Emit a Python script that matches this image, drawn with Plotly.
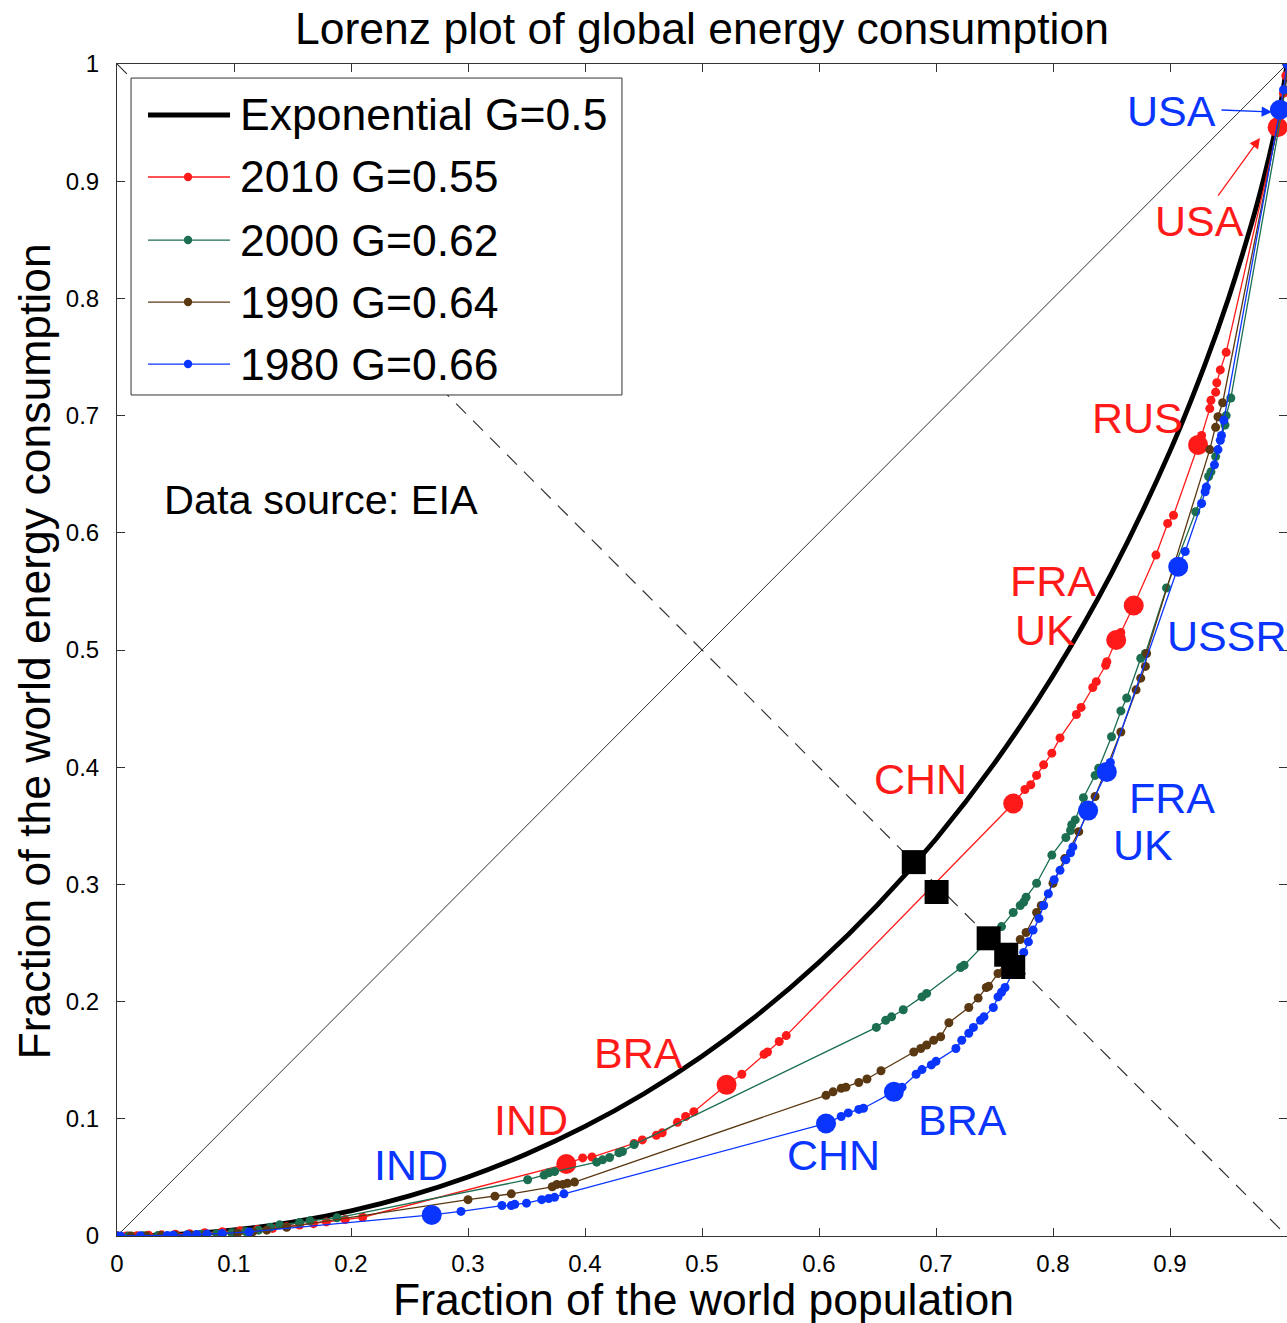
import plotly.graph_objects as go

# ---- data -------------------------------------------------------------
# Lorenz curve of an exponential distribution (Gini = 0.5)
exp_x = [0, 0.025, 0.05, 0.1, 0.15, 0.2, 0.25, 0.3, 0.35, 0.4, 0.45, 0.5, 0.55, 0.6,
         0.65, 0.7, 0.75, 0.8, 0.85, 0.9, 0.93, 0.95, 0.97, 0.98, 0.99, 0.995, 1.0]
exp_y = [0, 0.0003, 0.0013, 0.0052, 0.0119, 0.0215, 0.0342, 0.0503, 0.0700, 0.0935,
         0.1212, 0.1534, 0.1907, 0.2335, 0.2826, 0.3388, 0.4034, 0.4781, 0.5654,
         0.6697, 0.7439, 0.8002, 0.8648, 0.9018, 0.9440, 0.9685, 1.0]

# 2010 (G=0.55)
x2010 = [0, 0.008, 0.017, 0.027, 0.038, 0.05, 0.062, 0.075, 0.09, 0.105, 0.12, 0.133,
         0.145, 0.156, 0.168, 0.179, 0.195, 0.21, 0.384, 0.398, 0.406, 0.442, 0.449,
         0.461, 0.466, 0.479, 0.486, 0.493, 0.521, 0.534, 0.553, 0.556, 0.566, 0.572,
         0.766, 0.776, 0.781, 0.786, 0.792, 0.799, 0.806, 0.820, 0.824, 0.834, 0.837,
         0.845, 0.846, 0.854, 0.858, 0.869, 0.888, 0.898, 0.903, 0.924, 0.927, 0.934,
         0.935, 0.939, 0.940, 0.943, 0.948, 0.992, 0.995, 0.997, 0.999, 1.0]
y2010 = [0, 0.0001, 0.0003, 0.0006, 0.001, 0.0015, 0.002, 0.0028, 0.0036, 0.0045,
         0.0055, 0.0065, 0.0078, 0.0094, 0.0105, 0.012, 0.014, 0.016, 0.0614, 0.0666,
         0.0674, 0.079, 0.082, 0.086, 0.088, 0.097, 0.102, 0.106, 0.129, 0.138, 0.155,
         0.157, 0.166, 0.171, 0.369, 0.381, 0.385, 0.393, 0.402, 0.412, 0.425, 0.445,
         0.451, 0.468, 0.473, 0.487, 0.490, 0.5085, 0.515, 0.538, 0.581, 0.608, 0.615,
         0.675, 0.683, 0.706, 0.713, 0.720, 0.728, 0.739, 0.754, 0.946, 0.960, 0.975,
         0.990, 1.0]
c2010 = {18: "IND", 28: "BRA", 34: "CHN", 47: "UK", 49: "FRA", 53: "RUS", 61: "USA"}

# 2000 (G=0.62)
x2000 = [0, 0.01, 0.022, 0.035, 0.048, 0.06, 0.072, 0.085, 0.098, 0.11, 0.121, 0.131,
         0.139, 0.156, 0.165, 0.188, 0.351, 0.365, 0.369, 0.374, 0.41, 0.415, 0.421,
         0.429, 0.432, 0.442, 0.649, 0.657, 0.662, 0.672, 0.688, 0.692, 0.721, 0.724,
         0.756, 0.766, 0.772, 0.775, 0.777, 0.786, 0.799, 0.811, 0.815, 0.816, 0.819,
         0.826, 0.836, 0.839, 0.850, 0.858, 0.863, 0.875, 0.879, 0.897, 0.922, 0.933,
         0.935, 0.939, 0.947, 0.948, 0.952, 0.996, 0.998, 1.0]
y2000 = [0, 0.0001, 0.0002, 0.0004, 0.0007, 0.001, 0.0015, 0.002, 0.0028, 0.0038,
         0.005, 0.0075, 0.0095, 0.0115, 0.013, 0.0155, 0.048, 0.052, 0.054, 0.055,
         0.063, 0.065, 0.067, 0.071, 0.072, 0.078, 0.178, 0.184, 0.187, 0.193, 0.204,
         0.207, 0.229, 0.231, 0.264, 0.276, 0.282, 0.285, 0.289, 0.301, 0.325, 0.340,
         0.346, 0.351, 0.355, 0.374, 0.393, 0.399, 0.426, 0.448, 0.459, 0.493, 0.497,
         0.553, 0.618, 0.648, 0.652, 0.665, 0.692, 0.700, 0.715, 0.962, 0.978, 1.0]

# 1990 (G=0.64)
x1990 = [0, 0.012, 0.025, 0.038, 0.05, 0.063, 0.076, 0.09, 0.103, 0.116, 0.128, 0.145,
         0.300, 0.323, 0.337, 0.372, 0.376, 0.381, 0.385, 0.391, 0.606, 0.612, 0.619,
         0.623, 0.634, 0.641, 0.653, 0.681, 0.687, 0.692, 0.698, 0.704, 0.711, 0.728,
         0.736, 0.743, 0.745, 0.753, 0.772, 0.777, 0.786, 0.790, 0.800, 0.810, 0.822,
         0.836, 0.858, 0.871, 0.875, 0.879, 0.880, 0.934, 0.939, 0.941, 0.945, 0.995,
         0.998, 1.0]
y1990 = [0, 0.0001, 0.0002, 0.0004, 0.0006, 0.0009, 0.0013, 0.0018, 0.0025, 0.0035,
         0.005, 0.0075, 0.031, 0.034, 0.036, 0.042, 0.044, 0.044, 0.045, 0.046, 0.120,
         0.123, 0.126, 0.127, 0.131, 0.134, 0.141, 0.157, 0.160, 0.163, 0.167, 0.170,
         0.182, 0.195, 0.203, 0.212, 0.213, 0.224, 0.253, 0.259, 0.276, 0.282, 0.301,
         0.322, 0.345, 0.375, 0.430, 0.466, 0.476, 0.486, 0.497, 0.671, 0.690, 0.699,
         0.711, 0.962, 0.978, 1.0]

# 1980 (G=0.66)
x1980 = [0, 0.003, 0.02, 0.043, 0.048, 0.06, 0.068, 0.077, 0.09, 0.113, 0.269, 0.294,
         0.329, 0.337, 0.340, 0.350, 0.363, 0.369, 0.374, 0.382, 0.606, 0.619, 0.625,
         0.634, 0.638, 0.664, 0.671, 0.683, 0.688, 0.696, 0.700, 0.717, 0.722, 0.728,
         0.732, 0.738, 0.741, 0.749, 0.753, 0.756, 0.759, 0.775, 0.779, 0.783, 0.788,
         0.792, 0.796, 0.801, 0.806, 0.811, 0.815, 0.817, 0.830, 0.846, 0.849, 0.907,
         0.913, 0.927, 0.930, 0.931, 0.938, 0.941, 0.943, 0.944, 0.946, 0.994, 0.997, 1.0]
y1980 = [0, 0.0001, 0.0002, 0.0005, 0.0006, 0.0009, 0.0012, 0.0016, 0.0022, 0.0035,
         0.018, 0.021, 0.026, 0.026, 0.027, 0.028, 0.031, 0.032, 0.033, 0.036, 0.096,
         0.102, 0.105, 0.108, 0.109, 0.123, 0.127, 0.138, 0.142, 0.146, 0.149, 0.160,
         0.167, 0.173, 0.178, 0.184, 0.187, 0.195, 0.204, 0.208, 0.212, 0.242, 0.251,
         0.261, 0.271, 0.282, 0.292, 0.304, 0.312, 0.321, 0.327, 0.332, 0.363, 0.396,
         0.404, 0.571, 0.584, 0.625, 0.635, 0.639, 0.658, 0.671, 0.679, 0.683, 0.696,
         0.961, 0.978, 1.0]
c1980 = {10: "IND", 20: "CHN", 25: "BRA", 52: "UK", 53: "FRA", 55: "USSR", 65: "USA"}

# crossings of each curve with the anti-diagonal x + y = 1
cross_x = [0.681, 0.7005, 0.745, 0.760, 0.766]
cross_y = [0.319, 0.2935, 0.254, 0.240, 0.2295]

legend_labels = ["Exponential G=0.5", "2010 G=0.55", "2000 G=0.62",
                 "1990 G=0.64", "1980 G=0.66"]
ticks = [0, 0.1, 0.2, 0.3, 0.4, 0.5, 0.6, 0.7, 0.8, 0.9, 1]
tick_text = ["0", "0.1", "0.2", "0.3", "0.4", "0.5", "0.6", "0.7", "0.8", "0.9", "1"]

# ---- styling ----------------------------------------------------------
FONT = "Liberation Sans, Arial, Helvetica, sans-serif"
RED, GREEN, BROWN, BLUE = "#ff1a1a", "#1b6e50", "#5a3812", "#0a35ff"
SMALL, BIG = 9, 20

fig = go.Figure()

# reference diagonals
fig.add_shape(type="line", x0=0, y0=0, x1=1, y1=1, line=dict(color="#333", width=1),
              layer="below")
fig.add_shape(type="line", x0=0, y0=1, x1=1, y1=0,
              line=dict(color="#333", width=1.2, dash="14px,10px"), layer="below")

fig.add_trace(go.Scatter(x=exp_x, y=exp_y, mode="lines", line_shape="spline",
                         line=dict(color="black", width=4.8), showlegend=False,
                         hoverinfo="skip"))


def add_series(xs, ys, color, labels=None):
    labels = labels or {}
    sizes = [BIG if i in labels else SMALL for i in range(len(xs))]
    fig.add_trace(go.Scatter(x=xs, y=ys, mode="lines+markers",
                             line=dict(color=color, width=1.3),
                             marker=dict(color=color, size=sizes, opacity=1,
                                         line=dict(width=0)),
                             showlegend=False))


add_series(x2010, y2010, RED, c2010)
add_series(x2000, y2000, GREEN)
add_series(x1990, y1990, BROWN)
add_series(x1980, y1980, BLUE, c1980)

fig.add_trace(go.Scatter(x=cross_x, y=cross_y, mode="markers",
                         marker=dict(symbol="square", size=24, color="black"),
                         showlegend=False))

# ---- hand-made legend box ---------------------------------------------
lx0, lx1, ly0, ly1 = 0.012, 0.4316, 0.7176, 0.988
fig.add_shape(type="rect", x0=lx0, x1=lx1, y0=ly0, y1=ly1,
              line=dict(color="#333", width=1), fillcolor="white", layer="above")
rows = [0.9565, 0.9036, 0.8498, 0.7969, 0.744]
colors = ["black", RED, GREEN, BROWN, BLUE]
for i, (ry, col, lab) in enumerate(zip(rows, colors, legend_labels)):
    fig.add_shape(type="line", x0=0.0265, x1=0.0966, y0=ry, y1=ry,
                  line=dict(color=col, width=5 if i == 0 else 1.3), layer="above")
    if i > 0:
        r = 0.0036
        fig.add_shape(type="circle", x0=0.0607 - r, x1=0.0607 + r, y0=ry - r,
                      y1=ry + r, fillcolor=col, line=dict(width=0), layer="above")
    fig.add_annotation(x=0.103, y=ry, text=lab, showarrow=False, xanchor="left",
                       yanchor="middle", font=dict(size=44.5, color="black", family=FONT))

# ---- country labels ---------------------------------------------------
country_labels = [
    ("IND", 0.3538, 0.099, RED, "center"), ("BRA", 0.4453, 0.156, RED, "center"),
    ("CHN", 0.6868, 0.390, RED, "center"), ("FRA", 0.7615, 0.5589, RED, "left"),
    ("UK", 0.7655, 0.5171, RED, "left"), ("RUS", 0.8726, 0.698, RED, "center"),
    ("USA", 0.9248, 0.866, RED, "center"),
    ("IND", 0.2517, 0.0606, BLUE, "center"), ("CHN", 0.6124, 0.0691, BLUE, "center"),
    ("BRA", 0.7226, 0.099, BLUE, "center"), ("UK", 0.8765, 0.3336, BLUE, "center"),
    ("FRA", 0.9013, 0.3737, BLUE, "center"), ("USSR", 0.8957, 0.512, BLUE, "left"),
    ("USA", 0.9009, 0.9595, BLUE, "center"),
]
for txt, x, y, col, anc in country_labels:
    fig.add_annotation(x=x, y=y, text=txt, showarrow=False, xanchor=anc,
                       yanchor="middle", font=dict(size=43, color=col, family=FONT))

# arrows pointing at the USA markers
fig.add_annotation(x=0.9872, y=0.959, ax=0.9427, ay=0.9608, axref="x", ayref="y",
                   text="", showarrow=True, arrowhead=2, arrowsize=1.6,
                   arrowwidth=1.3, arrowcolor=BLUE)
fig.add_annotation(x=0.9769, y=0.9369, ax=0.9402, ay=0.8865, axref="x", ayref="y",
                   text="", showarrow=True, arrowhead=2, arrowsize=1.6,
                   arrowwidth=1.3, arrowcolor=RED)

fig.add_annotation(x=0.0385, y=0.628, text="Data source: EIA", showarrow=False,
                   xanchor="left", yanchor="middle",
                   font=dict(size=41.5, color="black", family=FONT))

# titles
TITLE_SIZE = 44.5
fig.add_annotation(xref="paper", yref="paper", x=0.4996, y=1.0299,
                   text="Lorenz plot of global energy consumption", showarrow=False,
                   xanchor="center", yanchor="middle",
                   font=dict(size=TITLE_SIZE, color="black", family=FONT))
fig.add_annotation(xref="paper", yref="paper", x=0.5009, y=-0.0546,
                   text="Fraction of the world population", showarrow=False,
                   xanchor="center", yanchor="middle",
                   font=dict(size=TITLE_SIZE, color="black", family=FONT))
fig.add_annotation(xref="paper", yref="paper", x=-0.0701, y=0.4987,
                   text="Fraction of the world energy consumption", showarrow=False,
                   textangle=-90, xanchor="center", yanchor="middle",
                   font=dict(size=TITLE_SIZE, color="black", family=FONT))

axis_common = dict(range=[0, 1], showgrid=False, zeroline=False, showline=True,
                   mirror="ticks", linecolor="#333", linewidth=1, ticks="inside",
                   ticklen=8, tickcolor="#333", tickvals=ticks, ticktext=tick_text,
                   tickfont=dict(size=24, color="black", family=FONT))
fig.update_xaxes(**axis_common, ticklabelstandoff=6)
fig.update_yaxes(**axis_common, ticklabelstandoff=12)

fig.update_layout(width=1287, height=1323, autosize=False,
                  margin=dict(l=117, r=0, t=64, b=87),
                  plot_bgcolor="white", paper_bgcolor="white",
                  font=dict(family=FONT, color="black"), showlegend=False)

fig.write_html("out.html")
